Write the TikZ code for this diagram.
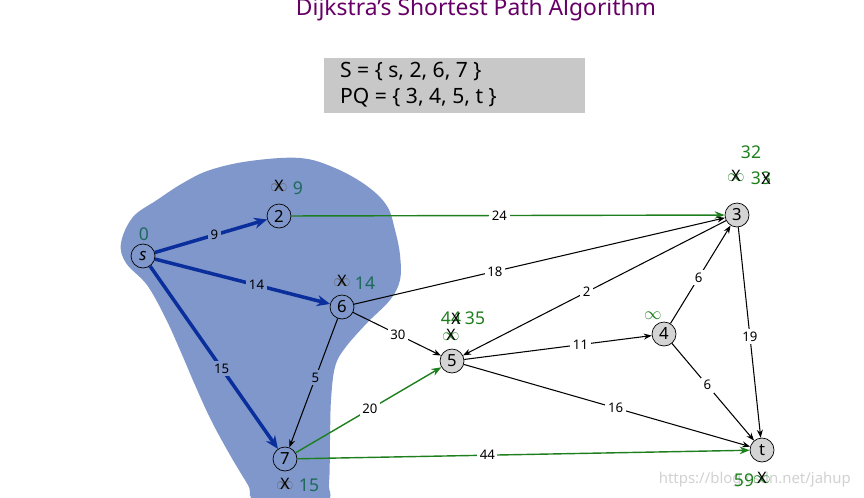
\documentclass[tikz,border=0pt]{standalone}
\usepackage{fontspec}
\setmainfont{Noto Sans}
\usepackage{xcolor}
\usepackage{tikz}
\usetikzlibrary{positioning, arrows.meta, calc}
\definecolor{titolo}{HTML}{660066}
\definecolor{nuvola}{HTML}{7F97CA}
\definecolor{blu}{HTML}{0A2E9C}
\definecolor{verde}{HTML}{1E7F1E}
\definecolor{verdeblu}{HTML}{1D6A5C}
\definecolor{grigio}{HTML}{C8C8C8}
% valore cancellato con una X
\newcommand{\barrato}[2]{\ooalign{\hfil\textcolor{#1}{#2}\hfil\cr\hfil\textcolor{black}{\fontsize{9}{10}\selectfont X}\hfil}}
\tikzset{
	>={Stealth[length=1.6mm]},
	% vertice del grafo
	vertice/.style={draw, circle, thin, fill=black!17, minimum size=0.48cm, inner sep=0pt,
	                font=\fontsize{9.5}{11}\selectfont},
	% vertice dentro l'insieme S
	verticein/.style={vertice, fill=nuvola},
	% arco normale
	arco/.style={->, semithick},
	% arco dell'albero dei cammini minimi
	arcoblu/.style={->, line width=2pt, blu, >={Stealth[length=2.6mm, width=2.2mm]}},
	% arco aggiornato
	arcoverde/.style={->, thick, verde, >={Stealth[length=2mm]}},
	% peso di un arco
	peso/.style={fill=white, inner sep=1.5pt, font=\fontsize{7.5}{9}\selectfont, text=black},
	pesoin/.style={peso, fill=nuvola},
	% distanza provvisoria
	dist/.style={inner sep=0pt, font=\fontsize{10}{12}\selectfont, text=verde},
	distin/.style={dist, text=verdeblu},
}

\begin{document}
\begin{tikzpicture}[x=0.02cm, y=-0.02cm]
    \useasboundingbox (0,0) rectangle (864,497);
    % titolo e insiemi
    \node[font=\fontsize{13}{15}\selectfont, text=titolo] (titolo) at (476,10) {Dijkstra's Shortest Path Algorithm};
    \fill[grigio] (324,58) rectangle (585,113);
    \node[anchor=west, font=\fontsize{12}{14}\selectfont] (insS) at (334,72) {S = \{ s, 2, 6, 7 \}};
    \node[anchor=west, font=\fontsize{12}{14}\selectfont] (insPQ) at (334,98) {PQ = \{ 3, 4, 5, t \}};
    % insieme S
    \fill[nuvola] plot[smooth cycle, tension=0.6] coordinates {(121,243) (133,217) (157,200) (183,183)
      (210,170) (250,161) (300,158) (335,168) (367,186) (387,206) (395,230) (400,255) (400,280)
      (390,300) (367,323) (345,348) (335,367) (331,400) (330,440) (329,483) (324,502) (258,502)
      (248,485) (230,455) (211,420) (195,385) (180,350) (165,317) (147,285) (126,263)};
    \node[anchor=east, font=\fontsize{8.5}{10}\selectfont, text=black!18] (web) at (857,480) {https://blog.csdn.net/jahup};
    % vertici
    \node[verticein] (s) at (143,256) {\textit{s}};
    \node[verticein] (n2) at (279,216) {2};
    \node[verticein] (n6) at (342,307) {6};
    \node[verticein] (n7) at (285,459) {7};
    \node[vertice] (n3) at (737,215) {3};
    \node[vertice] (n5) at (452,361) {5};
    \node[vertice] (n4) at (664,334) {4};
    \node[vertice] (t) at (762,450) {t};
    % archi
    \draw[arcoblu] (s) -- node[pesoin, pos=0.53] {9} (n2);
    \draw[arcoblu] (s) -- node[pesoin, pos=0.58] {14} (n6);
    \draw[arcoblu] (s) -- node[pesoin, pos=0.56] {15} (n7);
    \draw[arcoverde] (n2) -- node[peso, pos=0.48] {24} (n3);
    \draw[arco] (n6) -- node[peso, pos=0.38] {18} (n3);
    \draw[arco] (n6) -- node[peso, pos=0.51] {30} (n5);
    \draw[arco] (n6) -- node[pesoin, pos=0.46] {5} (n7);
    \draw[arco] (n3) -- node[peso, pos=0.53] {2} (n5);
    \draw[arco] (n5) -- node[peso, pos=0.62] {11} (n4);
    \draw[arco] (n4) -- node[peso, pos=0.47] {6} (n3);
    \draw[arco] (n3) -- node[peso, pos=0.52] {19} (t);
    \draw[arco] (n4) -- node[peso, pos=0.43] {6} (t);
    \draw[arco] (n5) -- node[peso, pos=0.53] {16} (t);
    \draw[arcoverde] (n7) -- node[peso, pos=0.51] {20} (n5);
    \draw[arcoverde] (n7) -- node[peso, pos=0.42] {44} (t);
    % distanze
    \node[distin] (ds) at ($(s)+(1,-22)$) {0};
    \node[distin] (x2) at ($(n2)+(0,-28)$) {\barrato{black!60}{$\infty$}};
    \node[distin] (d2) at ($(n2)+(19,-28)$) {9};
    \node[distin] (x6) at ($(n6)+(0,-24)$) {\barrato{black!60}{$\infty$}};
    \node[distin] (d6) at ($(n6)+(23,-24)$) {14};
    \node[distin] (x7) at ($(n7)+(0,27)$) {\barrato{black!60}{$\infty$}};
    \node[distin] (d7) at ($(n7)+(24,26)$) {15};
    \node[dist] (d3) at ($(n3)+(14,-63)$) {32};
    \node[dist] (x3) at ($(n3)+(-1,-37)$) {\barrato{verde}{$\infty$}};
    \node[dist] (y3) at ($(n3)+(24,-37)$) {3\barrato{verde}{3}};
    \node[dist] (y5) at ($(n5)+(-1,-43)$) {4\barrato{verde}{4}};
    \node[dist] (d5) at ($(n5)+(23,-43)$) {35};
    \node[dist] (x5) at ($(n5)+(-1,-24)$) {\barrato{verde}{$\infty$}};
    \node[dist] (x4) at ($(n4)+(-11,-18)$) {$\infty$};
    \node[dist] (dt) at ($(t)+(-18,30)$) {59};
    \node[dist] (xt) at ($(t)+(0,30)$) {\barrato{verde}{$\infty$}};
\end{tikzpicture}
\end{document}
